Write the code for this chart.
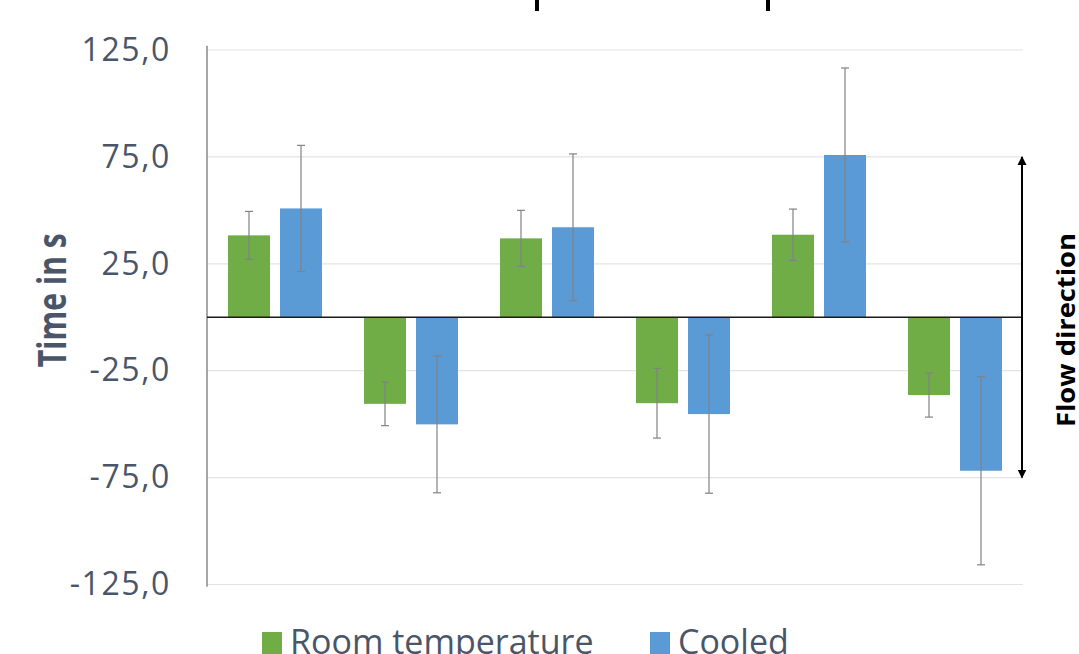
<!DOCTYPE html>
<html>
<head>
<meta charset="utf-8">
<script src="https://cdn.jsdelivr.net/npm/d3@7"></script>
<style>
  body { margin: 0; background: #fff; }
  svg { display: block; }
</style>
</head>
<body>
<script>
// chart values
const categories = ["1", "2", "3", "4", "5", "6"];
const series = ["Room temperature", "Cooled"];
const roomTemp = [38.3, -40.5, 36.9, -40.2, 38.6, -36.4];
const roomTempErr = [11.2, 10.2, 13.1, 16.3, 12.0, 10.3];
const cooled = [50.9, -50.1, 42.1, -45.3, 75.9, -71.8];
const cooledErr = [29.5, 32.0, 34.3, 37.0, 40.7, 44.0];
const tickValues = [-125, -75, -25, 25, 75, 125];

const colours = { "Room temperature": "#70ad47", Cooled: "#5b9bd5" };
const textColour = "#4a5668";

const width = 1079;
const height = 654;
const margin = { top: 50, right: 56, bottom: 70, left: 207 };

const svg = d3
  .select("body")
  .append("svg")
  .attr("width", width)
  .attr("height", height);

const yScale = d3
  .scaleLinear()
  .domain([-125, 125])
  .range([margin.top + 534.5, margin.top]);

const xScale = d3
  .scaleBand()
  .domain(categories)
  .range([margin.left, width - margin.right])
  .padding(0);

const x1 = d3
  .scaleBand()
  .domain(series)
  .range([21, xScale.bandwidth() - 21])
  .paddingInner(10 / 52)
  .paddingOuter(0);

// gridlines
svg
  .append("g")
  .selectAll("line")
  .data(tickValues)
  .join("line")
  .attr("x1", margin.left)
  .attr("x2", width - margin.right)
  .attr("y1", (d) => yScale(d))
  .attr("y2", (d) => yScale(d))
  .attr("stroke", "#e3e3e3")
  .attr("stroke-width", 1.2);

// y axis labels (comma decimal, plain hyphen for minus)
const yAxis = d3
  .axisLeft(yScale)
  .tickValues(tickValues)
  .tickSize(0)
  .tickPadding(36)
  .tickFormat((d) => d.toFixed(1).replace(".", ","));
const yAxisG = svg
  .append("g")
  .attr("transform", `translate(${margin.left},0)`)
  .call(yAxis);
yAxisG.select(".domain").remove();
yAxisG
  .selectAll("text")
  .attr("font-family", "'Open Sans', sans-serif")
  .attr("font-size", "32px")
  .attr("letter-spacing", "1.6px")
  .attr("fill", textColour);

// left axis line
svg
  .append("line")
  .attr("x1", margin.left)
  .attr("x2", margin.left)
  .attr("y1", yScale(127))
  .attr("y2", yScale(-126))
  .attr("stroke", "#8a8a8a")
  .attr("stroke-width", 1.5);

const rows = [];
categories.forEach((c, i) => {
  rows.push({ cat: c, key: series[0], value: roomTemp[i], err: roomTempErr[i] });
  rows.push({ cat: c, key: series[1], value: cooled[i], err: cooledErr[i] });
});

// bars
svg
  .append("g")
  .selectAll("rect")
  .data(rows)
  .join("rect")
  .attr("x", (d) => xScale(d.cat) + x1(d.key))
  .attr("width", x1.bandwidth())
  .attr("y", (d) => yScale(Math.max(0, d.value)))
  .attr("height", (d) => Math.abs(yScale(d.value) - yScale(0)))
  .attr("fill", (d) => colours[d.key]);

// zero line
svg
  .append("line")
  .attr("x1", margin.left)
  .attr("x2", width - margin.right)
  .attr("y1", yScale(0))
  .attr("y2", yScale(0))
  .attr("stroke", "#1a1a1a")
  .attr("stroke-width", 1.5);

// error bars
const errG = svg
  .append("g")
  .attr("stroke", "#7f8387")
  .attr("stroke-width", 1.2);
const cx = (d) => xScale(d.cat) + x1(d.key) + x1.bandwidth() / 2;
errG
  .selectAll("line.v")
  .data(rows)
  .join("line")
  .attr("class", "v")
  .attr("x1", cx)
  .attr("x2", cx)
  .attr("y1", (d) => yScale(d.value + d.err))
  .attr("y2", (d) => yScale(d.value - d.err));
errG
  .selectAll("line.top")
  .data(rows)
  .join("line")
  .attr("class", "top")
  .attr("x1", (d) => cx(d) - 4)
  .attr("x2", (d) => cx(d) + 4)
  .attr("y1", (d) => yScale(d.value + d.err))
  .attr("y2", (d) => yScale(d.value + d.err));
errG
  .selectAll("line.bot")
  .data(rows)
  .join("line")
  .attr("class", "bot")
  .attr("x1", (d) => cx(d) - 4)
  .attr("x2", (d) => cx(d) + 4)
  .attr("y1", (d) => yScale(d.value - d.err))
  .attr("y2", (d) => yScale(d.value - d.err));

// y axis title
svg
  .append("text")
  .attr("transform", `translate(66,${yScale(8)}) rotate(-90)`)
  .attr("text-anchor", "middle")
  .attr("font-family", "'Open Sans', sans-serif")
  .attr("font-weight", "bold")
  .attr("font-size", "39px")
  .attr("textLength", 134)
  .attr("lengthAdjust", "spacingAndGlyphs")
  .attr("fill", textColour)
  .text("Time in s");

// flow direction arrow
const defs = svg.append("defs");
defs
  .append("marker")
  .attr("id", "head")
  .attr("viewBox", "0 0 10 10")
  .attr("refX", 9)
  .attr("refY", 5)
  .attr("markerWidth", 4.5)
  .attr("markerHeight", 5)
  .attr("markerUnits", "strokeWidth")
  .attr("orient", "auto-start-reverse")
  .append("path")
  .attr("d", "M0,0L10,5L0,10z")
  .attr("fill", "#000");

const arrowX = width - margin.right - 1;
svg
  .append("line")
  .attr("x1", arrowX)
  .attr("x2", arrowX)
  .attr("y1", yScale(75))
  .attr("y2", yScale(-75))
  .attr("stroke", "#000")
  .attr("stroke-width", 2)
  .attr("marker-start", "url(#head)")
  .attr("marker-end", "url(#head)");

svg
  .append("text")
  .attr("transform", `translate(1075,${yScale(-6)}) rotate(-90)`)
  .attr("text-anchor", "middle")
  .attr("font-family", "'Open Sans', sans-serif")
  .attr("font-weight", "bold")
  .attr("font-size", "25px")
  .attr("textLength", 194)
  .attr("lengthAdjust", "spacingAndGlyphs")
  .attr("fill", "#000")
  .text("Flow direction");

// cut-off marks at the top edge
svg
  .append("g")
  .selectAll("rect")
  .data([537, 768])
  .join("rect")
  .attr("x", (d) => d - 2)
  .attr("y", 0)
  .attr("width", 4)
  .attr("height", 11)
  .attr("fill", "#000");

// legend
const legendX = [262, 650];
const legend = svg
  .append("g")
  .selectAll("g")
  .data(series)
  .join("g")
  .attr("transform", (d, i) => `translate(${legendX[i]},632)`);
legend
  .append("rect")
  .attr("width", 20)
  .attr("height", 22)
  .attr("fill", (d) => colours[d]);
legend
  .append("text")
  .attr("x", 28)
  .attr("y", 22)
  .attr("font-family", "'Open Sans', sans-serif")
  .attr("font-size", "34px")
  .attr("fill", textColour)
  .text((d) => d);
</script>
</body>
</html>
